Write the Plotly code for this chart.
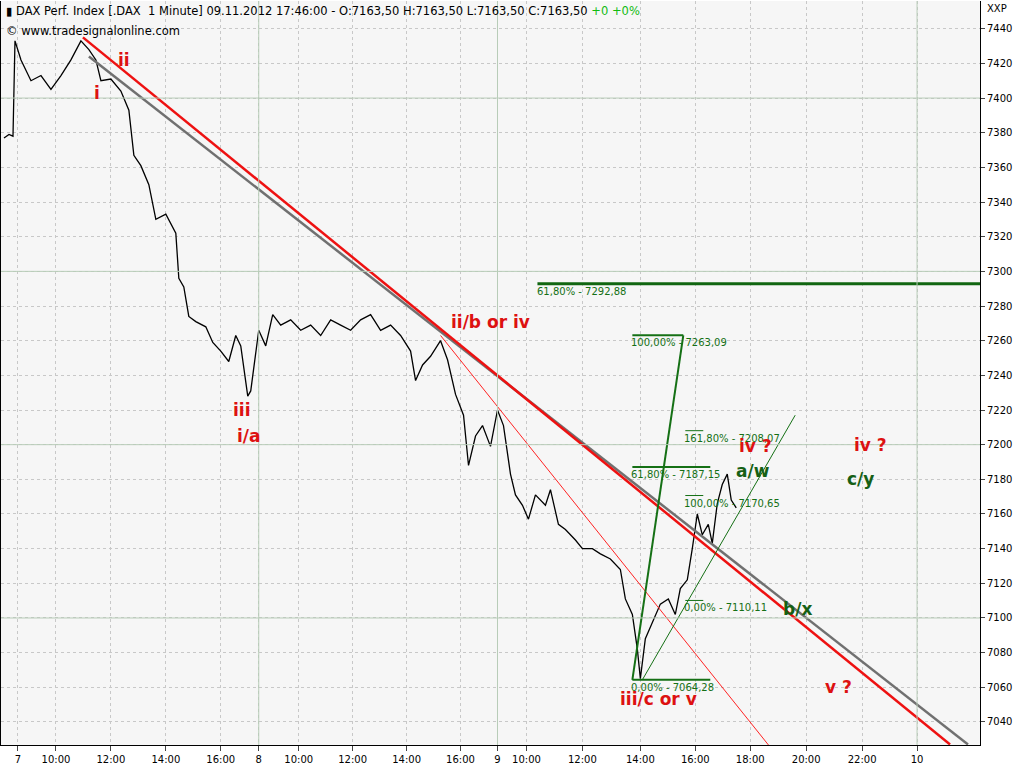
import plotly.graph_objects as go

# x is a "session hour" coordinate: 10:00 on day 7 = 10, one unit per hour, sessions joined
def sx(px):
    return 10 + (px - 55) / 27.5

tick_px = [17, 55, 110, 165, 220, 258, 298, 352, 406, 460, 497, 526, 582, 640, 695, 750, 806, 862, 917]
tick_text = ["7", "10:00", "12:00", "14:00", "16:00", "8", "10:00", "12:00", "14:00", "16:00",
             "9", "10:00", "12:00", "14:00", "16:00", "18:00", "20:00", "22:00", "10"]
day_px = [258, 497, 917]

price_px = [3, 8, 12, 14, 20, 30, 40, 50, 60, 70, 80, 88, 95, 100, 110, 120, 128, 133, 140, 148, 155,
            165, 175, 178, 183, 188, 195, 205, 212, 220, 228, 235, 240, 247, 250,
            258, 265, 272, 280, 290, 300, 310, 320, 330, 340, 350, 360, 370, 380, 390, 400, 410, 415,
            422, 430, 440, 447, 455, 463, 468, 475, 482, 490, 497, 503, 510, 515, 522, 528, 535, 545,
            550, 558, 565, 575, 582, 592, 600, 610, 620, 625, 632, 637, 640, 645, 652, 660, 668, 675,
            680, 687, 692, 697, 702, 708, 712, 717, 722, 727, 731, 736]
price = [7377, 7379, 7378, 7433, 7422, 7410, 7413, 7405, 7413, 7422, 7433, 7428, 7422, 7410, 7411,
         7404, 7393, 7367, 7361, 7350, 7330, 7333, 7322, 7296, 7291, 7274, 7271, 7268, 7259, 7254,
         7248, 7263, 7257, 7228, 7231,
         7266, 7257, 7275, 7269, 7272, 7266, 7269, 7263, 7272, 7269, 7266, 7272, 7275, 7266, 7269,
         7263, 7254, 7237, 7246, 7251, 7260, 7249, 7229, 7217, 7188, 7205, 7211, 7199, 7220, 7211,
         7183, 7171, 7165, 7157, 7171, 7165, 7174, 7154, 7151, 7145, 7140, 7140, 7137, 7134, 7128,
         7111, 7102, 7082, 7065, 7088, 7097, 7108, 7111, 7102, 7117, 7122, 7140, 7160, 7148, 7154,
         7143, 7166, 7177, 7183, 7168, 7163.5]

# trend lines: (start px, start price, end px, end price)
red_line = [82, 7435, 950, 7027]
gray_line = [88, 7424, 968, 7027]
thin_red = [440, 7263, 772, 7024]
green_up = [632, 7064.28, 683, 7263.09]
green_thin = [642, 7064.28, 795, 7217]
target_line = [537, 7292.88, 1010, 7292.88]

fib_levels = [7263.09, 7187.15, 7064.28, 7208.07, 7170.65, 7110.11]
fib_text = ["100,00% - 7263,09", "61,80% - 7187,15", "0,00% - 7064,28",
            "161,80% - 7208,07", "100,00% - 7170,65", "0,00% - 7110,11"]
fib_from = [632, 632, 632, 685, 685, 685]
fib_to = [683, 710, 710, 703, 703, 703]

red_labels = [("i", 96, 7403), ("ii", 123, 7422), ("iii", 241, 7220), ("i/a", 248, 7205),
              ("ii/b or iv", 490, 7271), ("iii/c or v", 658, 7053), ("iv ?", 755, 7199),
              ("iv ?", 870, 7200), ("v ?", 838, 7060)]
green_labels = [("a/w", 753, 7185), ("c/y", 860, 7180), ("b/x", 797, 7105)]

fig = go.Figure()
fig.add_trace(go.Scatter(x=[sx(p) for p in price_px], y=price, mode="lines",
                         line=dict(color="black", width=1.3)))

def seg(s, color, width):
    fig.add_trace(go.Scatter(x=[sx(s[0]), sx(s[2])], y=[s[1], s[3]], mode="lines",
                             line=dict(color=color, width=width)))

seg(gray_line, "#707070", 2.5)
seg(red_line, "#ee1111", 2.5)
seg(thin_red, "#ff2222", 1)
seg(green_up, "#157015", 2)
seg(green_thin, "#157015", 1)
seg(target_line, "#116611", 3)
for lv, a, b, txt in zip(fib_levels, fib_from, fib_to, fib_text):
    w = 2 if a == 632 else 1
    seg([a, lv, b, lv], "#157015", w)
    fig.add_annotation(x=sx(a - 3), y=lv, text=txt, showarrow=False,
                       xanchor="left", yanchor="top", font=dict(size=10, color="#157015"))
fig.add_annotation(x=sx(535), y=7292.88, text="61,80% - 7292,88", showarrow=False, xanchor="left",
                   yanchor="top", font=dict(size=10, color="#157015"))

for t, px, y in red_labels:
    fig.add_annotation(x=sx(px), y=y, text="<b>" + t + "</b>", showarrow=False,
                       font=dict(size=17, color="#dd1111"))
for t, px, y in green_labels:
    fig.add_annotation(x=sx(px), y=y, text="<b>" + t + "</b>", showarrow=False,
                       font=dict(size=17, color="#156015"))

for d in day_px:
    fig.add_vline(x=sx(d), line=dict(color="#b8ccb8", width=1))
for v in [7300, 7200, 7100, 7400]:
    fig.add_hline(y=v, line=dict(color="#b8ccb8", width=1))

fig.add_annotation(xref="paper", yref="paper", x=0.003, y=0.999, xanchor="left", yanchor="top",
                   showarrow=False, font=dict(size=11.5, color="black"),
                   text="▮ DAX Perf. Index [.DAX  1 Minute] 09.11.2012 17:46:00 - O:7163,50 H:7163,50 "
                        "L:7163,50 C:7163,50 <span style='color:#11bb11'>+0 +0%</span>")
fig.add_annotation(xref="paper", yref="paper", x=0.003, y=0.972, xanchor="left", yanchor="top",
                   showarrow=False, font=dict(size=11.5, color="black"), text="© www.tradesignalonline.com")
fig.add_annotation(xref="paper", yref="paper", x=1.005, y=1.0, xanchor="left", yanchor="top",
                   showarrow=False, font=dict(size=10, color="black"), text="XXP")

fig.update_layout(
    width=1024, height=768, showlegend=False,
    paper_bgcolor="white", plot_bgcolor="#f6f6f6",
    margin=dict(l=1, r=44, t=1, b=23),
    font=dict(family="DejaVu Sans", size=10, color="black"),
    xaxis=dict(range=[sx(0), sx(980)], tickvals=[sx(p) for p in tick_px], ticktext=tick_text,
               ticks="outside", ticklen=5, showgrid=True, gridcolor="#c8c8c8", griddash="dot",
               showline=True, linecolor="black", zeroline=False, tickfont=dict(size=10)),
    yaxis=dict(range=[7026.7, 7456], side="right", dtick=20, ticks="outside", ticklen=4,
               showgrid=True, gridcolor="#c8c8c8", griddash="dot", showline=True, linecolor="black",
               mirror=True, zeroline=False, tickfont=dict(size=10)),
)
fig.write_html("out.html", config={"displayModeBar": False},
               post_script="document.body.style.margin='0';")
